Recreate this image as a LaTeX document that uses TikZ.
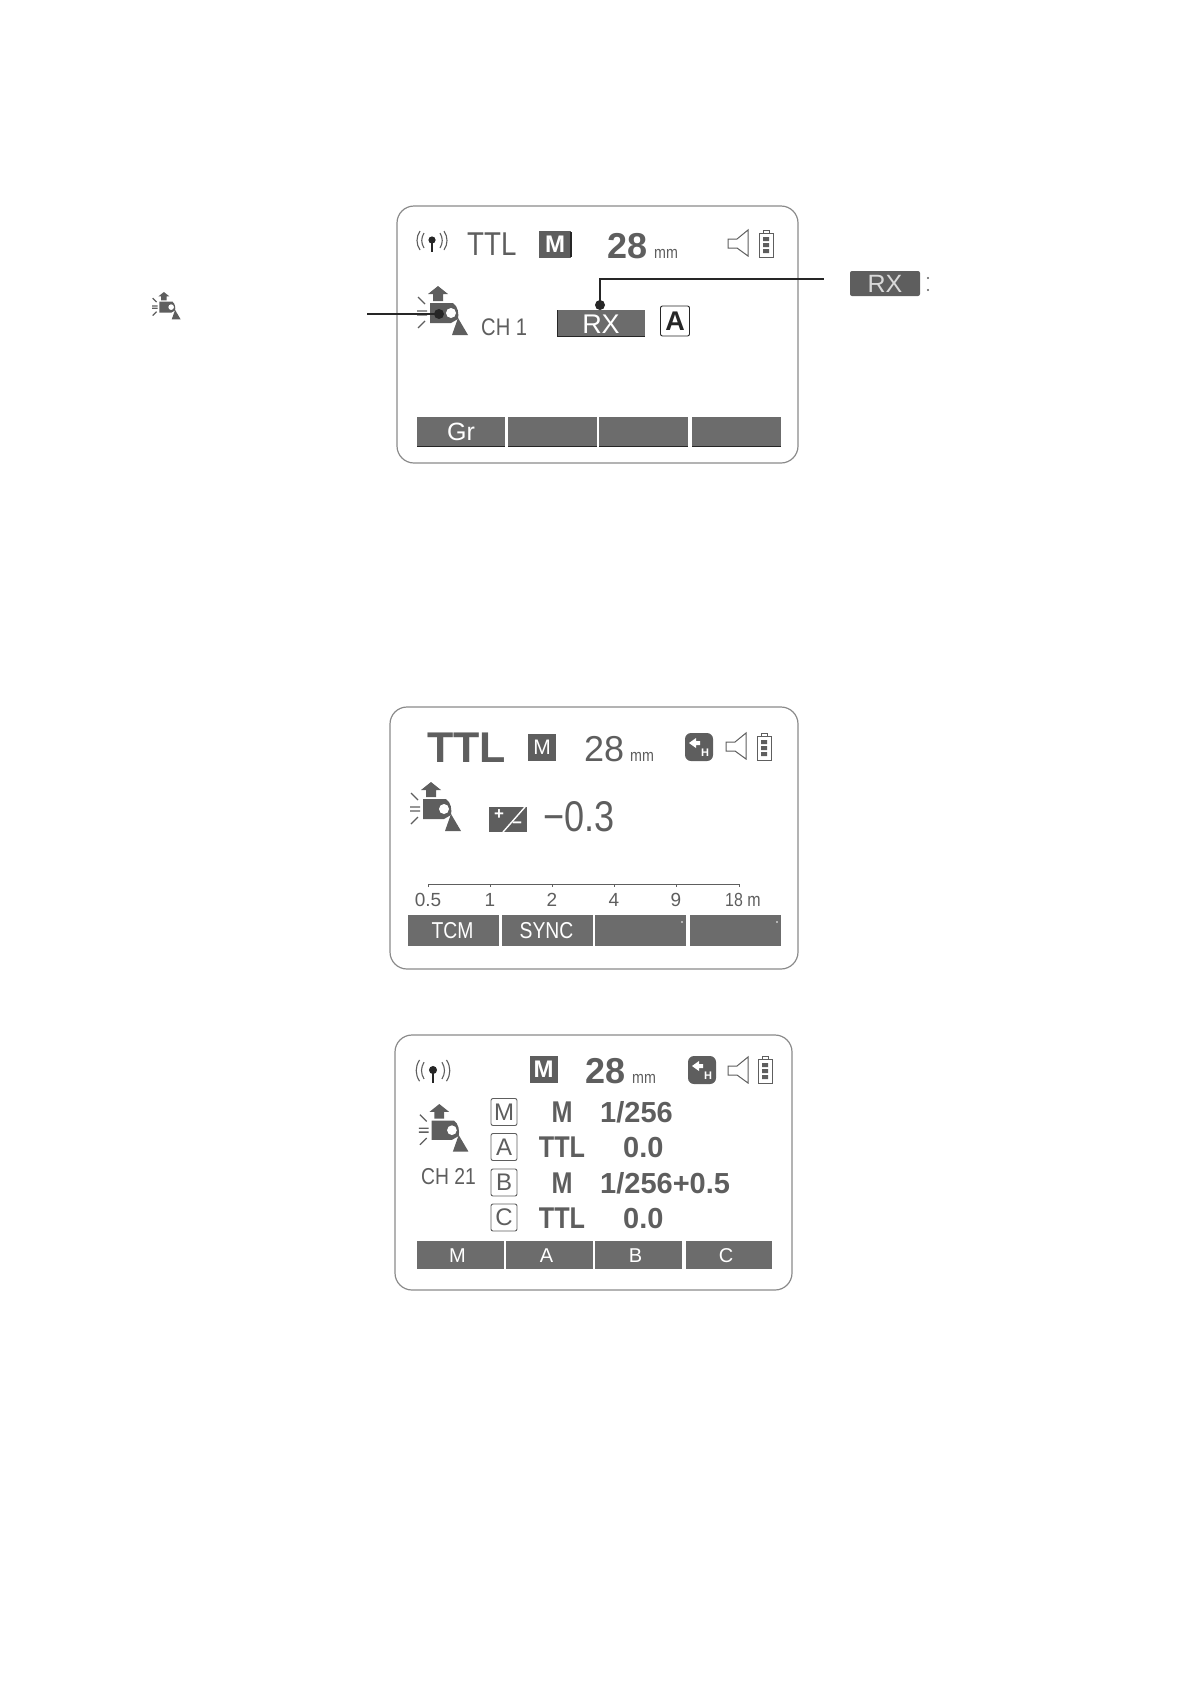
\documentclass[tikz,border=0pt]{standalone}
\usepackage{fontspec}
\setmainfont{Liberation Sans}
\newfontfamily\lcdnarrow[FakeStretch=0.84]{Liberation Sans}
\newcommand{\fs}[1]{\fontsize{#1}{#1}\selectfont}
\newcommand{\ratiolab}{1/256}
\definecolor{lcd}{HTML}{5E5E5E}
\definecolor{lcdkey}{HTML}{6C6C6C}
\definecolor{lcdframe}{HTML}{8A8A8A}
\definecolor{lead}{HTML}{262626}
\tikzset{
  screen/.style={draw=lcdframe, line width=1.2pt, rounded corners=17pt},
  lcdtext/.style={text=lcd, inner sep=0pt, anchor=base},
  lcdleft/.style={lcdtext, anchor=base west},
  softkey/.style={fill=lcdkey, draw=none},
  softlabel/.style={text=white, inner sep=0pt, font=\lcdnarrow\fs{23}},
  letterbox/.style={draw=lcd, line width=0.9pt, rounded corners=2pt, text=lcd, inner sep=0pt, minimum width=26pt, minimum height=27pt, font=\fs{24}},
  modebox/.style={fill=lcd, text=white, inner sep=0pt, minimum width=28pt, minimum height=27pt, font=\fs{24}\bfseries},
  dotnode/.style={circle, fill=lead, inner sep=0pt, minimum size=10pt},
  leadline/.style={draw=lead, line width=1.4pt},
  flash/.pic={
    \fill[lcd] (23,0) -- (33,8) -- (28,8) -- (28,15) -- (18,15) -- (18,8) -- (13,8) -- cycle;
    \fill[lcd] (15,17) -- (38,17) .. controls (43,20) and (44,28) .. (43,33) -- (36,37) -- (15,37) -- cycle;
    \fill[white] (36,27) circle (5);
    \fill[lcd] (43,32) -- (53,49) -- (37,49) -- cycle;
    \draw[lcd, line width=1.3pt] (3,11) -- (10,18) (2,25) -- (12,25) (2,29) -- (12,29) (3,42) -- (10,35);
  },
  speaker/.pic={
    \draw[lcd, line width=1pt] (0,9) -- (9,9) -- (20,0) -- (20,26) -- (9,18) -- (0,18) -- cycle;
  },
  battery/.pic={
    \draw[lcd, line width=1pt] (0,3) rectangle (14,27) (4,3) -- (4,0) -- (10,0) -- (10,3);
    \fill[lcd] (4,7) rectangle (10,11) (4,13) rectangle (10,17) (4,19) rectangle (10,23);
  },
  antenna/.pic={
    \fill[lead] (0,0) circle (3.6);
    \draw[lead, line width=1.3pt] (0,0) -- (0,12);
    \draw[lcd, line width=1.1pt] (-8,-7) .. controls (-11,-2) and (-11,3) .. (-8,8) (8,-7) .. controls (11,-2) and (11,3) .. (8,8);
    \draw[lcd, line width=1.1pt] (-12,-9) .. controls (-16,-3) and (-16,4) .. (-12,10) (12,-9) .. controls (16,-3) and (16,4) .. (12,10);
  },
  badge/.pic={
    \fill[lcd, rounded corners=6pt] (0,0) rectangle (28,28);
    \fill[white] (4,10) -- (11,5) -- (11,8) -- (15,8) -- (15,12) -- (11,12) -- (11,15) -- cycle;
    \node[text=white, inner sep=0pt, font=\fs{11}\bfseries] at (20,20) {H};
  },
}
\begin{document}
\begin{tikzpicture}[x=1pt, y=-1pt]
    \useasboundingbox (0,0) rectangle (1191,1684);

    % 1. Primo schermo: cornice e riga superiore
    \draw[screen] (397,206) rectangle (798,463);
    \pic at (432,240) {antenna};
    \node[lcdleft, font=\lcdnarrow\fs{33}] (ttlone) at (467,255) {TTL};
    \node[modebox, minimum width=32pt] (mone) at (555,244.5) {M};
    \draw[lead, line width=2.2pt] (571,232) -- (571,257);
    \node[lcdleft, font=\fs{36}\bfseries] (zoomone) at (607,258) {28};
    \node[lcdleft, font=\lcdnarrow\fs{17}] (mmone) at (654,258) {mm};
    \pic at (728,230) {speaker};
    \pic at (759,230) {battery};

    % 2. Icona del flash, canale e tasti
    \pic at (415,286) {flash};
    \node[lcdleft, font=\lcdnarrow\fs{24}] (chone) at (481,335) {CH 1};
    \fill[softkey] (557,310) rectangle (645,337);
    \draw[lead, line width=1.5pt] (645,336.5) -- (557.5,336.5) -- (557.5,310);
    \node[softlabel, font=\fs{27}] (rxone) at (601,324) {RX};
    \node[letterbox, draw=lead, text=lead, minimum width=29pt, minimum height=30pt, font=\fs{27}\bfseries] (aone) at (675,321) {A};
    \foreach \xa/\xb/\lab [count=\i] in {417/505/Gr, 508/597/, 599/688/, 692/781/} {
        \fill[softkey] (\xa,417) rectangle (\xb,447);
        \draw[lead, line width=1.3pt] (\xa,446.5) -- (\xb,446.5);
        \node[softlabel, font=\fs{25}] (keyone\i) at ({(\xa+\xb)/2},432) {\lab};
    }

    % 3. Linee di richiamo con i pallini
    \node[dotnode] (flashdot) at (439,314) {};
    \coordinate (flashend) at (367,314);
    \draw[leadline] (flashend) -- (flashdot.center);
    \node[dotnode] (rxdot) at (600,305) {};
    \coordinate (rxend) at (824,279);
    \draw[leadline] (rxdot.center) |- (rxend);

    % 4. Legenda esterna
    \pic[scale=0.56] at (151,292) {flash};
    \node[fill=lcd, text=white!85!black, rounded corners=2pt, inner sep=0pt, minimum width=70pt, minimum height=25pt, font=\fs{25}] (rxtag) at (885,283.5) {RX};
    \fill[lcd] (928,278) circle (1.2) (928,290) circle (1.2);

    % 5. Secondo schermo
    \draw[screen] (390,707) rectangle (798,969);
    \node[lcdleft, font=\fs{43}\bfseries] (ttltwo) at (427,762) {TTL};
    \node[modebox, font=\fs{21}] (mtwo) at (542,747) {M};
    \node[lcdleft, font=\fs{36}] (zoomtwo) at (584,761) {28};
    \node[lcdleft, font=\lcdnarrow\fs{17}] (mmtwo) at (630,761) {mm};
    \pic at (685,733) {badge};
    \pic at (726,733) {speaker};
    \pic at (757,733) {battery};
    \pic at (408,782) {flash};
    \fill[lcd] (489,807) rectangle (527,832);
    \draw[white, line width=1.4pt] (503,832) -- (525,807);
    \node[text=white, inner sep=0pt, font=\fs{17}\bfseries] (evplus) at (499,815) {+};
    \node[text=white, inner sep=0pt, font=\fs{17}\bfseries] (evminus) at (517,825) {−};
    \node[lcdleft, font=\lcdnarrow\fs{43}] (evvalue) at (543,831) {−0.3};

    % 6. Scala delle distanze
    \draw[lcd, line width=0.9pt] (428,887) -- (428,884) -- (739,884) -- (739,887);
    \foreach \xt in {490,552,614,676} {
        \draw[lcd, line width=0.9pt] (\xt,884) -- (\xt,887);
    }
    \foreach \xt/\lab [count=\i] in {428/0.5, 490/1, 552/2, 614/4, 676/9} {
        \node[lcdtext, font=\fs{19}] (dist\i) at (\xt,906) {\lab};
    }
    \node[lcdleft, font=\lcdnarrow\fs{19}] (distlast) at (725,906) {18 m};
    \foreach \xa/\xb/\lab [count=\i] in {408/499/TCM, 502/593/SYNC, 595/686/, 690/781/} {
        \fill[softkey] (\xa,915) rectangle (\xb,946);
        \node[softlabel] (keytwo\i) at ({(\xa+\xb)/2-1},931) {\lab};
    }
    \fill[white] (682,922) circle (0.9) (777,922) circle (0.9);

    % 7. Terzo schermo
    \draw[screen] (395,1035) rectangle (792,1290);
    \pic[scale=1.12] at (433,1070) {antenna};
    \node[modebox] (mthree) at (543.5,1069.5) {M};
    \node[lcdleft, font=\fs{36}\bfseries] (zoomthree) at (585,1083) {28};
    \node[lcdleft, font=\lcdnarrow\fs{17}] (mmthree) at (632,1083) {mm};
    \pic at (688,1056) {badge};
    \pic at (728,1057) {speaker};
    \pic at (758,1056) {battery};
    \pic[scale=0.97] at (417,1104) {flash};
    \node[lcdleft, font=\lcdnarrow\fs{23}] (chthree) at (421,1184) {CH 21};

    % 8. Righe dei gruppi
    \foreach \lab/\yb/\modelab/\vallab/\xv [count=\i] in {M/1112/M/\ratiolab/600, A/1147/TTL/0.0/623, B/1182.5/M/\ratiolab+0.5/600, C/1217.5/TTL/0.0/623} {
        \node[letterbox] (group\i) at (504,\yb) {\lab};
        \node[lcdtext, font=\lcdnarrow\bfseries\fs{30}] (mode\i) at (562,\yb+10.5) {\modelab};
        \node[lcdleft, font=\fs{29}\bfseries] (value\i) at (\xv,\yb+10.5) {\vallab};
    }
    \foreach \xa/\xb/\lab [count=\i] in {417/504/M, 506/593/A, 595/682/B, 686/772/C} {
        \fill[softkey] (\xa,1241) rectangle (\xb,1269);
        \node[softlabel, font=\fs{20}] (keythree\i) at ({(\xa+\xb)/2-3},1256) {\lab};
    }
\end{tikzpicture}
\end{document}
